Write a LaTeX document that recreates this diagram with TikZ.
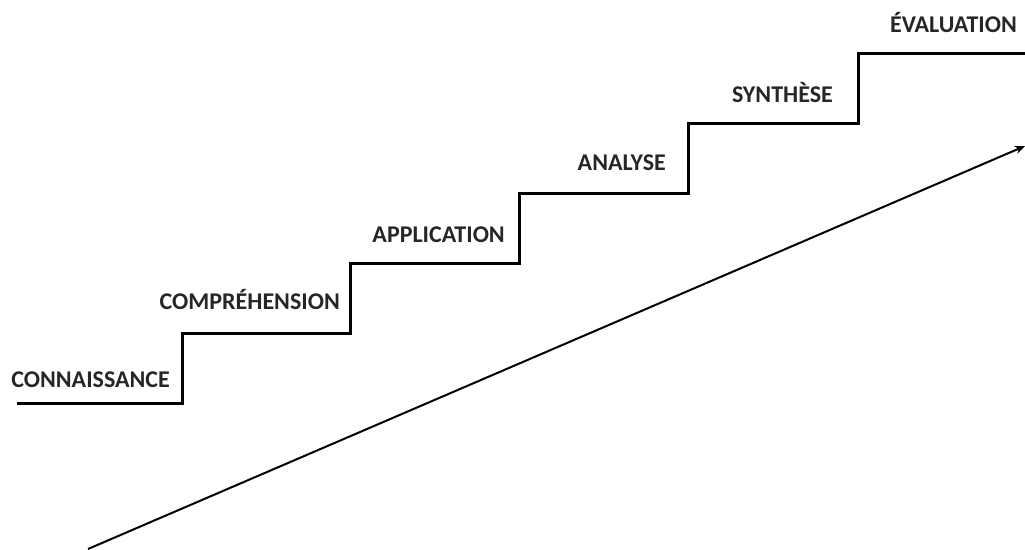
\documentclass[tikz,border=0pt]{standalone}
\usepackage{fontspec}
\setmainfont{Carlito}
\usetikzlibrary{arrows.meta,positioning}

\begin{document}
\begin{tikzpicture}[x=1pt,y=-1pt,>={Stealth[length=10pt,width=8pt]},
  level/.style={font=\fontsize{24}{28}\selectfont\bfseries,text=black!85,inner sep=0pt,anchor=base east},
  stair/.style={line width=3pt,line join=miter},
  rise/.style={line width=2pt}]
  \useasboundingbox (0,0) rectangle (1025,549);
  % corners of the stairs
  \coordinate (s0) at (17,403);
  \coordinate (s1) at (182,403);
  \coordinate (s2) at (350,333);
  \coordinate (s3) at (519,263);
  \coordinate (s4) at (688,193);
  \coordinate (s5) at (858,123);
  \coordinate (s6) at (1025,53);
  \draw [stair] (s0) -- (s1) |- (s2) |- (s3) |- (s4) |- (s5) |- (s6);
  % labels
  \node [level] (conn) at (170,387) {CONNAISSANCE};
  \node [level] (comp) at (340,309) {COMPRÉHENSION};
  \node [level] (appl) at (505,242) {APPLICATION};
  \node [level] (anal) at (666,170) {ANALYSE};
  \node [level] (synt) at (833,102) {SYNTHÈSE};
  \node [level] (eval) at (1017,32) {ÉVALUATION};
  % progression
  \coordinate (low) at (88,549);
  \coordinate (high) at (1025,146);
  \draw [rise,->] (low) -- (high);
\end{tikzpicture}
\end{document}
